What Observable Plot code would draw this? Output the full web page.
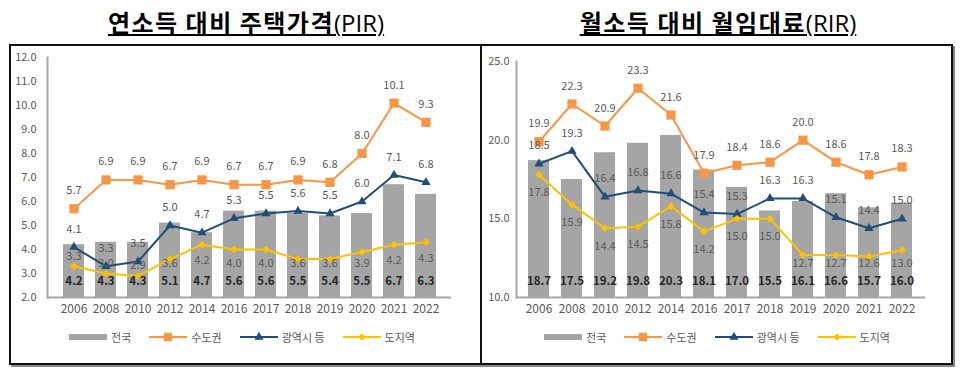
<!DOCTYPE html>
<html><head><meta charset="utf-8">
<script src="https://cdn.jsdelivr.net/npm/d3@7"></script>
<script src="https://cdn.jsdelivr.net/npm/@observablehq/plot@0.6"></script>
<style>
body{margin:0;width:960px;height:377px;background:#fff;position:relative;overflow:hidden;font-family:"Noto Sans CJK KR","Noto Sans",sans-serif;}
.title{position:absolute;top:5px;height:34px;line-height:34px;text-align:center;font-size:24px;font-weight:bold;color:#000;letter-spacing:1.5px;white-space:nowrap;}
.title u{text-decoration:underline;text-decoration-thickness:2px;text-underline-offset:2px;}
.title .n{font-weight:normal;font-family:"Open Sans","Noto Sans",sans-serif;letter-spacing:0;}
.box{position:absolute;left:9px;top:44px;width:944px;height:321px;box-sizing:border-box;border:2px solid #111;box-shadow:2px 2px 0 #888;}
.divider{position:absolute;left:480px;top:44px;width:2px;height:321px;background:#111;}
.chart{position:absolute;top:45px;}
.legend{position:absolute;top:329px;height:16px;display:flex;justify-content:center;align-items:center;gap:18px;font-size:11px;color:#595959;}
.legend .item{display:flex;align-items:center;gap:4px;}
</style>
</head><body>
<div class="box"></div>
<div class="divider"></div>
<div class="title" style="left:0;width:492px"><u>연소득 대비 주택가격<span class="n">(PIR)</span></u></div>
<div class="title" style="left:476px;width:484px"><u>월소득 대비 월임대료<span class="n">(RIR)</span></u></div>
<div id="left" class="chart" style="left:0"></div>
<div id="right" class="chart" style="left:480px"></div>
<div id="legL" class="legend" style="left:0;width:484px"></div>
<div id="legR" class="legend" style="left:481px;width:472px"></div>
<script>
const years = ["2006","2008","2010","2012","2014","2016","2017","2018","2019","2020","2021","2022"];
const seriesNames = ["전국","수도권","광역시 등","도지역"];
// PIR
const pirTotal = [4.2,4.3,4.3,5.1,4.7,5.6,5.6,5.5,5.4,5.5,6.7,6.3];
const pirCapital = [5.7,6.9,6.9,6.7,6.9,6.7,6.7,6.9,6.8,8.0,10.1,9.3];
const pirMetro = [4.1,3.3,3.5,5.0,4.7,5.3,5.5,5.6,5.5,6.0,7.1,6.8];
const pirProvince = [3.3,3.0,2.9,3.6,4.2,4.0,4.0,3.6,3.6,3.9,4.2,4.3];
const pirTicks = [2,3,4,5,6,7,8,9,10,11,12];
// RIR
const rirTotal = [18.7,17.5,19.2,19.8,20.3,18.1,17.0,15.5,16.1,16.6,15.7,16.0];
const rirCapital = [19.9,22.3,20.9,23.3,21.6,17.9,18.4,18.6,20.0,18.6,17.8,18.3];
const rirMetro = [18.5,19.3,16.4,16.8,16.6,15.4,15.3,16.3,16.3,15.1,14.4,15.0];
const rirProvince = [17.8,15.9,14.4,14.5,15.8,14.2,15.0,15.0,12.7,12.7,12.6,13.0];
const rirTicks = [10,15,20,25];

const colors = {total:"#a5a5a5", capital:"#f79646", metro:"#1f4e79", province:"#ffc000"};
const fmt = d3.format(".1f");

function makeChart({total, capital, metro, province, ticks, marginLeft, marginRight, marginTop, tickPad, provAboveFirst, provFloor, provDy}) {
  const rows = years.map((year, i) => ({year, i, total: total[i], capital: capital[i], metro: metro[i], province: province[i]}));
  const ymin = ticks[0], ymax = ticks[ticks.length - 1];
  const lbl = {fill:"#595959", fontSize:11};
  return Plot.plot({
    width: 480, height: 280,
    marginLeft, marginRight, marginTop, marginBottom: 28,
    style: {fontFamily: '"Noto Sans CJK KR","Noto Sans",sans-serif', background: "transparent", color: "#595959"},
    x: {type: "band", domain: years, padding: 0.35},
    y: {domain: [ymin, ymax]},
    marks: [
      Plot.barY(rows, {x: "year", y1: ymin, y2: "total", fill: colors.total}),
      Plot.ruleY([ymin], {stroke: "#a6a6a6", strokeWidth: 2}),
      Plot.frame({anchor: "left", stroke: "#a6a6a6", strokeWidth: 2}),
      Plot.axisY(ticks, {tickSize: 0, tickPadding: tickPad, tickFormat: fmt, fontSize: 11, fill: "#595959", label: null}),
      Plot.axisX({tickSize: 0, tickPadding: 7, fontSize: 12, fill: "#595959", label: null}),
      Plot.line(rows, {x: "year", y: "capital", stroke: colors.capital, strokeWidth: 2}),
      Plot.line(rows, {x: "year", y: "metro", stroke: colors.metro, strokeWidth: 2}),
      Plot.line(rows, {x: "year", y: "province", stroke: colors.province, strokeWidth: 2}),
      Plot.dot(rows, {x: "year", y: "capital", symbol: "square", fill: colors.capital, r: 5.2}),
      Plot.dot(rows, {x: "year", y: "metro", symbol: "triangle", fill: colors.metro, r: 3.4}),
      Plot.dot(rows, {x: "year", y: "province", symbol: "diamond2", fill: colors.province, r: 3.4}),
      Plot.text(rows, {x: "year", frameAnchor: "bottom", dy: -13, text: d => fmt(d.total), fill: "#262626", fontSize: 11.5, fontWeight: "bold"}),
      Plot.text(rows, {x: "year", y: "capital", dy: -18, text: d => fmt(d.capital), ...lbl}),
      Plot.text(rows, {x: "year", y: "metro", dy: -18, text: d => fmt(d.metro), ...lbl}),
      Plot.text(rows, {x: "year", y: "province", filter: d => d.i < provAboveFirst, dy: -10, text: d => fmt(d.province), ...lbl}),
      Plot.text(rows, {x: "year", y: d => Math.max(d.province, provFloor), filter: d => d.i >= provAboveFirst, dy: provDy, text: d => fmt(d.province), ...lbl})
    ]
  });
}

document.getElementById("left").append(makeChart({
  total: pirTotal, capital: pirCapital, metro: pirMetro, province: pirProvince, ticks: pirTicks,
  marginLeft: 47, marginRight: 29, marginTop: 12, tickPad: 11, provAboveFirst: 3, provFloor: 4.1, provDy: 16
}));
document.getElementById("right").append(makeChart({
  total: rirTotal, capital: rirCapital, metro: rirMetro, province: rirProvince, ticks: rirTicks,
  marginLeft: 36, marginRight: 35, marginTop: 16, tickPad: 7, provAboveFirst: 0, provFloor: 13.3, provDy: 18
}));

function legend(el) {
  const keys = ["total","capital","metro","province"];
  const syms = {capital: d3.symbolSquare, metro: d3.symbolTriangle, province: d3.symbolDiamond2};
  const sizes = {capital: 70, metro: 36, province: 36};
  keys.forEach((k, i) => {
    const item = document.createElement("div");
    item.className = "item";
    const svg = d3.create("svg").attr("width", 38).attr("height", 12);
    if (k === "total") {
      svg.append("rect").attr("x", 0).attr("y", 3).attr("width", 38).attr("height", 6).attr("fill", colors.total);
    } else {
      svg.append("line").attr("x1", 0).attr("x2", 38).attr("y1", 6).attr("y2", 6).attr("stroke", colors[k]).attr("stroke-width", 2);
      svg.append("path").attr("transform", "translate(19,6)").attr("d", d3.symbol(syms[k], sizes[k])()).attr("fill", colors[k]);
    }
    item.append(svg.node());
    const t = document.createElement("span");
    t.textContent = seriesNames[i];
    item.append(t);
    el.append(item);
  });
}
legend(document.getElementById("legL"));
legend(document.getElementById("legR"));
</script>
</body></html>
